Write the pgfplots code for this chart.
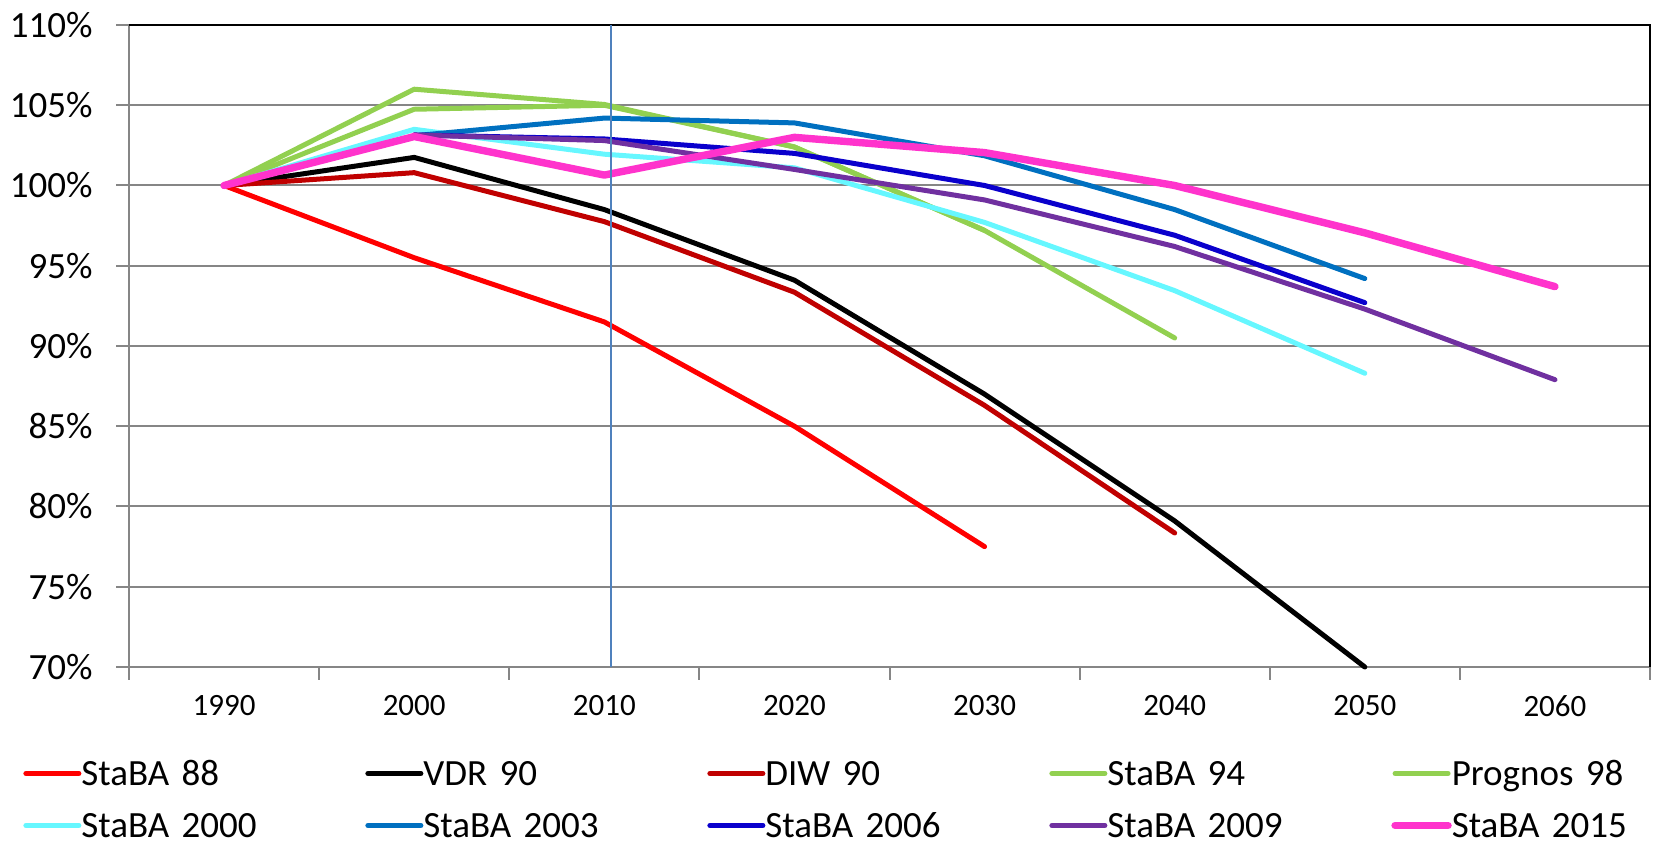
\documentclass[border=0pt]{standalone}
\usepackage{fontspec}
\setmainfont{Carlito}
\usepackage{pgfplots}
\pgfplotsset{compat=1.18}

\definecolor{cRed}{HTML}{FF0000}
\definecolor{cDarkRed}{HTML}{C00000}
\definecolor{cGreen}{HTML}{92D050}
\definecolor{cCyan}{HTML}{66F7FF}
\definecolor{cBlue}{HTML}{0070C0}
\definecolor{cNavy}{HTML}{0A00CC}
\definecolor{cPurple}{HTML}{7030A0}
\definecolor{cPink}{HTML}{FF33CC}
\definecolor{cGrid}{HTML}{868686}
\definecolor{cMark}{HTML}{4F81BD}

\begin{document}
\begin{tikzpicture}
\begin{axis}[
  name=ax,
  scale only axis,
  width=760.5pt, height=321pt,
  xmin=1985, xmax=2065, ymin=70, ymax=110,
  clip=false,
  axis line style={draw=none},
  xtick pos=bottom, ytick pos=left,
  xtick={1990,2000,...,2060},
  xticklabels={1990,2000,2010,2020,2030,2040,2050,2060},
  minor xtick={1985,1995,...,2065},
  ytick={70,75,...,110},
  yticklabels={70\%,75\%,80\%,85\%,90\%,95\%,100\%,105\%,110\%},
  ymajorgrids,
  major grid style={cGrid, line width=1pt},
  tick align=outside,
  major tick length=6.5pt, minor tick length=6.5pt,
  major x tick style={draw=none},
  minor x tick style={cGrid, line width=1pt},
  major y tick style={cGrid, line width=1pt},
  xticklabel style={font=\fontsize{15.5}{16}\selectfont, inner sep=0pt, yshift=-7.6pt},
  yticklabel style={font=\fontsize{18.5}{19}\selectfont, inner xsep=0pt, inner ysep=0pt, xshift=-11.5pt},
  every axis plot/.append style={line width=2.5pt, line join=round, line cap=round, mark=none},
  legend columns=5,
  legend cell align=left,
  legend style={at={(-0.0697,-0.1465)}, anchor=north west, draw=none, fill=none,
    inner sep=0pt, column sep=0pt, row sep=14pt,
    font=\fontsize{18.5}{19}\selectfont,
    nodes={inner xsep=0pt, inner ysep=0pt, xshift=-0.8pt, text width=95pt, text height=12pt, text depth=0pt},
    /tikz/every even column/.append style={column sep=47pt}},
  legend image code/.code={\draw[#1, line cap=round] (0pt,0pt) -- (26.5pt,0pt);},
]
% frame of the plot area
\draw[cGrid, line width=1pt] (rel axis cs:0,1) -- (rel axis cs:0,0) -- (rel axis cs:1,0);
\draw[black, line width=0.7pt] (rel axis cs:0,1) -- (rel axis cs:1,1) -- (rel axis cs:1,0);

\addplot[cRed] coordinates {(1990,100) (2000,95.5) (2010,91.5) (2020,85.0) (2030,77.5)};
\addlegendentry{StaBA 88}
\addplot[black] coordinates {(1990,100) (2000,101.75) (2010,98.5) (2020,94.1) (2030,87.0) (2040,79.1) (2050,70.0)};
\addlegendentry{VDR 90}
\addplot[cDarkRed] coordinates {(1990,100) (2000,100.8) (2010,97.75) (2020,93.35) (2030,86.3) (2040,78.35)};
\addlegendentry{DIW 90}
\addplot[cGreen] coordinates {(1990,100) (2000,106.0) (2010,105.05) (2020,102.4) (2030,97.2) (2040,90.5)};
\addlegendentry{StaBA 94}
\addplot[cGreen] coordinates {(1990,100) (2000,104.75) (2010,105.0) (2020,102.4) (2030,97.2)};
\addlegendentry{Prognos 98}
\addplot[cCyan] coordinates {(1990,100) (2000,103.5) (2010,101.95) (2020,101.1) (2030,97.7) (2040,93.45) (2050,88.3)};
\addlegendentry{StaBA 2000}
\addplot[cBlue] coordinates {(2000,103.1) (2010,104.2) (2020,103.9) (2030,101.85) (2040,98.5) (2050,94.2)};
\addlegendentry{StaBA 2003}
\addplot[cNavy] coordinates {(2000,103.15) (2010,102.9) (2020,102.0) (2030,100.0) (2040,96.9) (2050,92.7)};
\addlegendentry{StaBA 2006}
\addplot[cPurple] coordinates {(2000,103.15) (2010,102.8) (2020,101.0) (2030,99.1) (2040,96.2) (2050,92.3) (2060,87.9)};
\addlegendentry{StaBA 2009}
\addplot[cPink, line width=3.7pt] coordinates {(1990,100) (2000,103.05) (2010,100.65) (2020,103.0) (2030,102.05) (2040,100.0) (2050,97.05) (2060,93.7)};
\addlegendentry{StaBA 2015}

% marker line just after 2010
\draw[cMark, line width=0.75pt] (axis cs:2010.35,70) -- (axis cs:2010.35,110);
\end{axis}
\pgfresetboundingbox
\path ([shift={(-64.5pt,-89pt)}]ax.south west) rectangle ([shift={(2pt,12.5pt)}]ax.north east);
\end{tikzpicture}
\end{document}
